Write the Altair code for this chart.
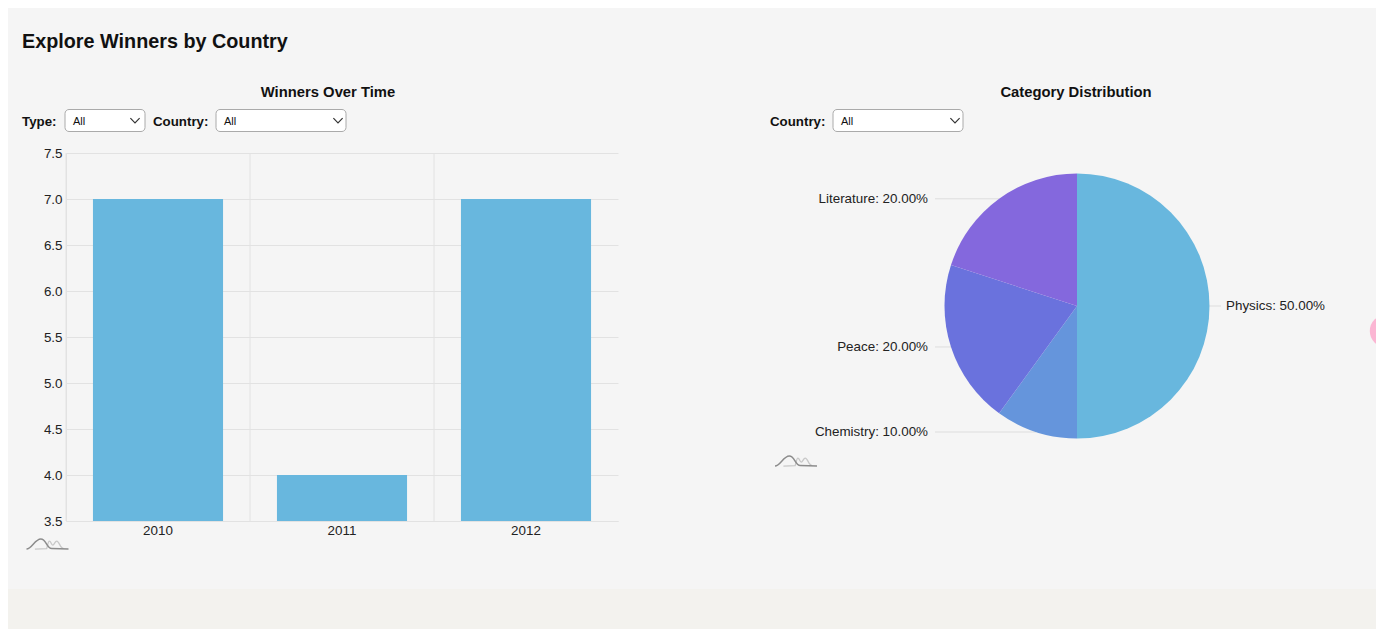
import math
import altair as alt
import pandas as pd

FONT = "Liberation Sans"
PANEL = "#f5f5f5"
PAGE = "#f3f2ee"
INK = "#111111"

# Data
years = ["2010", "2011", "2012"]
winners = [7, 4, 7]
y_ticks = [3.5, 4.0, 4.5, 5.0, 5.5, 6.0, 6.5, 7.0, 7.5]
categories = ["Physics", "Chemistry", "Peace", "Literature"]
shares = [50, 10, 20, 20]
slice_colors = ["#68b7de", "#6595dc", "#6a72dd", "#8468dd"]

bar_df = pd.DataFrame({"year": years, "winners": winners})

rows = []
acc = 0
for i, (c, s) in enumerate(zip(categories, shares)):
    mid = (acc + s / 2) / 100 * 2 * math.pi
    acc += s
    rows.append({
        "category": c, "share": s, "order": i,
        "label": f"{c}: {s:.2f}%",
        "px": math.sin(mid), "py": math.cos(mid),
        "side": "right" if math.sin(mid) > 0 else "left",
    })
pie_df = pd.DataFrame(rows)
one = pd.DataFrame({"a": [0]})

# Decorations are placed in page coordinates, relative to the bar chart's view origin
OX, OY = 66, 153

def text(s, x, y, size, bold=True, align="left", color=INK):
    return alt.Chart(one).mark_text(
        text=s, font=FONT, fontSize=size, fontWeight="bold" if bold else "normal",
        align=align, baseline="middle", color=color
    ).encode(x=alt.value(x - OX), y=alt.value(y - OY))

def select(x0, x1, chevron):
    box = alt.Chart(one).mark_rect(
        fill="white", stroke="#aaaaaa", strokeWidth=1, cornerRadius=4
    ).encode(x=alt.value(x0 - OX), x2=alt.value(x1 - OX), y=alt.value(109.5 - OY), y2=alt.value(131.5 - OY))
    arrow = alt.Chart(one).mark_point(
        shape="M-1,-0.5L0,0.5L1,-0.5", filled=False, stroke="#333333", strokeWidth=1.2, size=85, opacity=1
    ).encode(x=alt.value(chevron - OX), y=alt.value(120.5 - OY))
    label = text("All", x0 + 8, 121.5, 11, bold=False)
    return [box, arrow, label]

def glyph(x, y):
    light = alt.Chart(one).mark_point(
        shape="M-0.6,0.24L-0.04,0.22C0,0.1 0.03,-0.14 0.09,-0.14C0.17,-0.14 0.17,0.05 0.25,0.05"
              "C0.33,0.05 0.35,-0.14 0.44,-0.14C0.56,-0.14 0.6,0.21 0.76,0.21",
        filled=False, stroke="#c8c8c8", strokeWidth=1.3, size=1764, opacity=1
    ).encode(x=alt.value(x), y=alt.value(y))
    dark = alt.Chart(one).mark_point(
        shape="M-1,0.24C-0.75,0.24 -0.6,-0.24 -0.32,-0.24C-0.05,-0.24 -0.05,0.21 0.2,0.21L1,0.24",
        filled=False, stroke="#8c8c8c", strokeWidth=1.5, size=1764, opacity=1
    ).encode(x=alt.value(x), y=alt.value(y))
    return [light, dark]

# Invisible frame that fixes the chart's outer bounds; the background colour fills it
frame = alt.Chart(one).mark_rect(opacity=0).encode(
    x=alt.value(8 - OX), x2=alt.value(1376 - OX), y=alt.value(8 - OY), y2=alt.value(589 - OY)
)
strip = alt.Chart(one).mark_rect(color=PAGE, opacity=1).encode(
    x=alt.value(8 - OX), x2=alt.value(1376 - OX), y=alt.value(589 - OY), y2=alt.value(629 - OY)
)

header_layers = [
    text("Explore Winners by Country", 22, 42, 19.8),
    text("Winners Over Time", 328, 93, 14.8, align="center"),
    text("Category Distribution", 1076, 93, 14.8, align="center"),
    text("Type:", 22, 121.5, 13.3),
    text("Country:", 153, 121.5, 13.3),
    text("Country:", 770, 121.5, 13.3),
] + select(65, 145, 135) + select(216, 346, 338) + select(833, 963, 955)

# Bar chart
x_enc = alt.X("year:N", title=None,
              scale=alt.Scale(paddingInner=0.293, paddingOuter=0.1465),
              axis=alt.Axis(labelAngle=0, grid=False, ticks=False,
                            domainColor="#e2e2e2", labelFont=FONT,
                            labelFontSize=13.4, labelColor="#222222", labelPadding=2))
band_lines = alt.Chart(bar_df).mark_rule(color="#e2e2e2", strokeWidth=1, xOffset=-92).encode(x=x_enc)
bars = alt.Chart(bar_df).mark_bar(color="#68b7de", clip=True).encode(
    x=x_enc,
    y=alt.Y("winners:Q", title=None,
            scale=alt.Scale(domain=[3.5, 7.5], nice=False, zero=False),
            axis=alt.Axis(values=y_ticks, format=".1f", grid=True, ticks=False,
                          gridColor="#e2e2e2", domainColor="#e2e2e2", labelFont=FONT,
                          labelFontSize=13.4, labelColor="#222222", labelPadding=4)),
)
bar_panel = alt.layer(frame, strip, band_lines, bars, *header_layers, *glyph(-18.5, 391)).properties(width=552, height=368)

# Pie chart
CX, CY, R = 307, 153, 132.5
px_scale = alt.Scale(domain=[-1, 1], range=[CX - R, CX + R])
py_scale = alt.Scale(domain=[-1, 1], range=[CY + R, CY - R])

pie = alt.Chart(pie_df).mark_arc(outerRadius=R).encode(
    theta=alt.Theta("share:Q", stack=True),
    order=alt.Order("order:Q"),
    color=alt.Color("category:N", legend=None,
                    scale=alt.Scale(domain=categories, range=slice_colors)),
    x=alt.value(CX), y=alt.value(CY),
)

def leaders(side, x_end, x_text, align):
    base = alt.Chart(pie_df).transform_filter(f"datum.side == '{side}'")
    rule = base.mark_rule(color="#dddddd", strokeWidth=1).encode(
        x=alt.X("px:Q", scale=px_scale, axis=None),
        x2=alt.value(x_end),
        y=alt.Y("py:Q", scale=py_scale, axis=None),
    )
    lab = base.mark_text(font=FONT, fontSize=13.4, color="#222222", align=align, baseline="middle").encode(
        text="label:N",
        x=alt.value(x_text),
        y=alt.Y("py:Q", scale=py_scale, axis=None),
    )
    return [rule, lab]

pink = alt.Chart(one).mark_point(
    filled=True, fill="#fbb6d3", size=1050, opacity=1, clip=True, shape="circle"
).encode(x=alt.value(616), y=alt.value(178))

pie_panel = alt.layer(
    *leaders("left", 165, 158, "right"), *leaders("right", 451, 456, "left"),
    pie, pink, *glyph(26, 308)
).properties(width=606, height=368)

spacer = alt.Chart(one).mark_rect(opacity=0).encode(
    x=alt.value(0), x2=alt.value(1), y=alt.value(0), y2=alt.value(1)
).properties(width=152, height=368)

chart = alt.hconcat(bar_panel, spacer, pie_panel, spacing=0, bounds="flush").properties(
    padding=0, background=PANEL
).configure_view(strokeWidth=0)

chart.save("out.html", embed_options={"renderer": "svg", "actions": False})
